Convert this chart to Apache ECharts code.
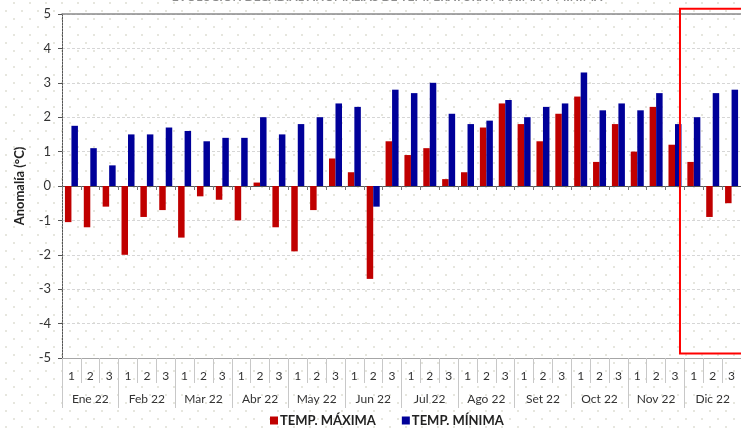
<!DOCTYPE html>
<html>
<head>
<meta charset="utf-8">
<script src="https://cdn.jsdelivr.net/npm/echarts@6/dist/echarts.min.js"></script>
<style>
html,body{margin:0;padding:0;background:#fff;}
#c{width:741px;height:429px;}
</style>
</head>
<body>
<div id="c"></div>
<script>
// ---- data ----
const months = ['Ene 22','Feb 22','Mar 22','Abr 22','May 22','Jun 22','Jul 22','Ago 22','Set 22','Oct 22','Nov 22','Dic 22'];
const dekads = ['1','2','3'];
const tempMax = [-1.05,-1.2,-0.6, -2.0,-0.9,-0.7, -1.5,-0.3,-0.4, -1.0,0.1,-1.2, -1.9,-0.7,0.8, 0.4,-2.7,1.3, 0.9,1.1,0.2, 0.4,1.7,2.4, 1.8,1.3,2.1, 2.6,0.7,1.8, 1.0,2.3,1.2, 0.7,-0.9,-0.5];
const tempMin = [1.75,1.1,0.6, 1.5,1.5,1.7, 1.6,1.3,1.4, 1.4,2.0,1.5, 1.8,2.0,2.4, 2.3,-0.6,2.8, 2.7,3.0,2.1, 1.8,1.9,2.5, 2.0,2.3,2.4, 3.3,2.2,2.4, 2.2,2.7,1.8, 2.0,2.7,2.8];
const yTicks = [-5,-4,-3,-2,-1,0,1,2,3,4,5];
const seriesNames = ['TEMP. MÁXIMA','TEMP. MÍNIMA'];
const titleText = 'EVOLUCIÓN DECADIAL ANOMALÍAS DE TEMPERATURA MÁXIMA Y MÍNIMA';

// ---- background dot pattern ----
const tile = document.createElement('canvas');
tile.width = 16; tile.height = 16;
const tc = tile.getContext('2d');
tc.fillStyle = '#fff'; tc.fillRect(0,0,16,16);
tc.fillStyle = '#e6e6de';
tc.fillRect(5,10,2,2);
tc.fillRect(13,2,2,2);
document.body.style.backgroundImage = 'url(' + tile.toDataURL() + ')';
document.getElementById('c').style.backgroundImage = 'url(' + tile.toDataURL() + ')';

const dekCats = [];
months.forEach(() => dekads.forEach(d => dekCats.push(d)));

const FONT = 'Lato';
const chart = echarts.init(document.getElementById('c'), null, {renderer: 'canvas'});
const option = {
  backgroundColor: 'transparent',
  animation: false,
  textStyle: {fontFamily: FONT},
  grid: {left: 62, right: -4, top: 14, bottom: 71, containLabel: false},
  legend: {
    data: seriesNames,
    left: 265, top: 409,
    icon: 'rect', itemWidth: 8, itemHeight: 8, itemGap: 26,
    textStyle: {fontFamily: FONT, fontSize: 13, fontWeight: 'bold', color: '#222', padding: [0,0,0,-3]}
  },
  xAxis: [
    {
      type: 'category', data: dekCats, position: 'bottom',
      axisLine: {onZero: false, lineStyle: {color: '#a6a6a6', width: 1}},
      axisTick: {show: true, interval: 0, length: 25, lineStyle: {color: '#c8c8c8'}},
      axisLabel: {interval: 0, margin: 12, fontSize: 12, color: '#333', fontFamily: FONT},
      splitLine: {show: false}
    },
    {
      type: 'category', data: months, position: 'bottom',
      axisLine: {onZero: false, show: false},
      axisTick: {show: true, interval: 0, length: 50, lineStyle: {color: '#c8c8c8'}},
      axisLabel: {interval: 0, margin: 35, fontSize: 12, color: '#333', fontFamily: FONT},
      splitLine: {show: false}
    },
    {
      type: 'category', data: dekCats, position: 'bottom',
      axisLine: {onZero: true, lineStyle: {color: '#555', width: 1}},
      axisTick: {show: true, interval: 0, length: 4, lineStyle: {color: '#777'}},
      axisLabel: {show: false},
      splitLine: {show: false}
    },
    {
      type: 'category', data: dekCats, position: 'top',
      axisLine: {onZero: false, lineStyle: {color: '#8a8a8a', width: 1.5}},
      axisTick: {show: false}, axisLabel: {show: false}, splitLine: {show: false}
    }
  ],
  yAxis: {
    type: 'value', min: yTicks[0], max: yTicks[yTicks.length-1], interval: 1,
    name: 'Anomalía (°C)', nameLocation: 'middle', nameGap: 36,
    nameTextStyle: {fontFamily: FONT, fontSize: 13, fontWeight: 'bold', color: '#222'},
    axisLine: {show: true, onZero: false, lineStyle: {color: '#555', type: [2,1], width: 1}},
    axisTick: {show: true, length: 4, lineStyle: {color: '#555'}},
    axisLabel: {margin: 11, fontSize: 13, color: '#333', fontFamily: FONT},
    splitLine: {show: true, lineStyle: {color: '#d6d6d6', type: [3,2], width: 1}}
  },
  series: [
    {name: seriesNames[0], type: 'bar', xAxisIndex: 0, data: tempMax, barWidth: 6.5, barGap: '0%',
     itemStyle: {color: '#c00000'}},
    {name: seriesNames[1], type: 'bar', xAxisIndex: 0, data: tempMin, barWidth: 6.5, barGap: '0%',
     itemStyle: {color: '#000099'}}
  ]
};
chart.setOption(option);

// annotation: title (cut off at top) and red highlight box over December
const xL = chart.convertToPixel({xAxisIndex: 0}, 32) + 5;
const yT = chart.convertToPixel({yAxisIndex: 0}, 5.15);
const yB = chart.convertToPixel({yAxisIndex: 0}, -4.87);
chart.setOption({
  graphic: [
    {type: 'text', x: 387, y: -9, style: {text: titleText, font: 'bold 12px ' + FONT, fill: '#8c8c8c', textAlign: 'center'}, silent: true},
    {type: 'rect', shape: {x: xL, y: yT, width: 100, height: yB - yT}, style: {fill: 'none', stroke: '#ff0000', lineWidth: 2}, silent: true, z: 100}
  ]
});
</script>
</body>
</html>
